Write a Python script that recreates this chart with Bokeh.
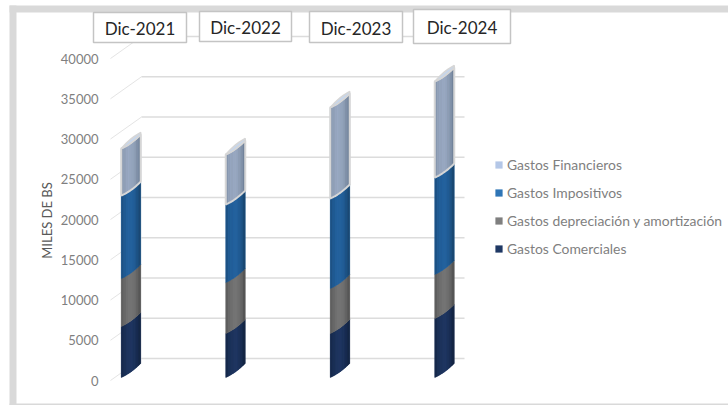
from bokeh.plotting import figure
from bokeh.models import (FixedTicker, Label, BoxAnnotation, Legend, LegendItem, Range1d)
from bokeh.embed import file_html
from bokeh.resources import INLINE
import math

# ---- chart values -------------------------------------------------------
categories = ["Dic-2021", "Dic-2022", "Dic-2023", "Dic-2024"]
gastos_comerciales = [6335, 5465, 5465, 7330]
gastos_depreciacion = [5960, 6335, 5590, 5470]
gastos_impositivos = [10300, 9690, 11185, 12040]
gastos_financieros = [5850, 6210, 11300, 11930]
series_names = ["Gastos Comerciales", "Gastos depreciación y amortización",
                "Gastos Impositivos", "Gastos Financieros"]
y_ticks = [0, 5000, 10000, 15000, 20000, 25000, 30000, 35000, 40000]

# ---- styling ------------------------------------------------------------
legend_colors = ["#1f3864", "#7f7f7f", "#2e75b6", "#b4c7e7"]
# horizontal shading of each cylinder, left edge to right edge
shades = [
    ["#16294c", "#1a2f55", "#1d335c", "#1e355f", "#1e3560", "#1c325a", "#182c50", "#142644"],
    ["#5f5f5f", "#686868", "#6f6f6f", "#737373", "#737373", "#6e6e6e", "#646464", "#565656"],
    ["#1d5184", "#205a92", "#225f9a", "#23619c", "#23619c", "#215c94", "#1e5386", "#1a4873"],
    ["#8797ae", "#909fb7", "#95a5bd", "#97a7bf", "#95a5bd", "#8e9eb5", "#8292a9", "#72839a"],
]
X_PER_PX = 1 / 104.5
Y_PER_PX = 1 / 0.00805
BAR_W = 19.5 * X_PER_PX
RISE = 14 * Y_PER_PX        # oblique rise of the cylinder ellipse
CAP_RISE = 16 * Y_PER_PX    # the lit top of the cylinder stands a little higher
DEPTH_DY = 22 * Y_PER_PX    # floor depth of the walls
BASE = 3 * Y_PER_PX         # cylinder front sits a little above the zero front line
FONT = "Lato"

p = figure(width=728, height=405, output_backend="svg", toolbar_location=None,
           x_axis_location=None, y_axis_location="left",
           x_range=Range1d((0 - 130.5) * X_PER_PX, (728 - 130.5) * X_PER_PX),
           y_range=Range1d((380 - 405) * Y_PER_PX, (380 - 0) * Y_PER_PX),
           min_border_left=0, min_border_top=0, min_border_right=0, min_border_bottom=0)
p.outline_line_color = None
p.xgrid.visible = False
p.ygrid.visible = False
p.background_fill_color = "white"
p.border_fill_color = "white"

x_front, x_back, x_end = (110 - 130.5) * X_PER_PX, (141 - 130.5) * X_PER_PX, (464 - 130.5) * X_PER_PX

ax = p.yaxis[0]
ax.fixed_location = x_front
ax.ticker = FixedTicker(ticks=y_ticks)
ax.axis_line_color = None
ax.major_tick_line_color = None
ax.minor_tick_line_color = None
ax.major_tick_out = 0
ax.major_tick_in = 0
ax.major_label_standoff = 12
ax.major_label_text_font = FONT
ax.major_label_text_font_size = "13px"
ax.major_label_text_color = "#7f7f7f"

# wall grid and the oblique floor ticks
p.multi_line([[x_back, x_end] for _ in y_ticks], [[t + DEPTH_DY] * 2 for t in y_ticks],
             line_color="#dcdcdc", line_width=1.5)
p.multi_line([[x_front, x_back] for _ in y_ticks], [[t, t + DEPTH_DY] for t in y_ticks],
             line_color="#e4e4e4", line_width=1)


def curve(t):
    return 0.6 * t + 0.4 * t * t


def band(cx, lo, hi, t0, t1, n=6):
    ts = [t0 + (t1 - t0) * i / n for i in range(n + 1)]
    xs = [cx - BAR_W / 2 + BAR_W * t for t in ts]
    lower = [lo + RISE * curve(t) for t in ts]
    upper = [hi + RISE * curve(t) for t in ts]
    return xs + xs[::-1], lower + upper[::-1]


stacks = [gastos_comerciales, gastos_depreciacion, gastos_impositivos, gastos_financieros]
bottoms = [BASE] * len(categories)
base_renderers = []
for s, vals in enumerate(stacks):
    xs, ys = [], []
    sx, sy, sc = [], [], []
    for i, v in enumerate(vals):
        lo, hi = bottoms[i], bottoms[i] + v
        a, b = band(i, lo, hi, 0, 1, 16)
        xs.append(a); ys.append(b)
        for k, c in enumerate(shades[s]):
            a, b = band(i, lo, hi, k / 8, (k + 1) / 8, 3)
            sx.append(a); sy.append(b); sc.append(c)
        bottoms[i] = hi
    base_renderers.append(p.patches(xs, ys, fill_color=legend_colors[s], line_color=None))
    p.patches(sx, sy, fill_color=sc, line_color=sc, line_width=0.4)
    if s == 3:
        p.patches(xs, ys, fill_color=None, line_color="#d6d6d6", line_width=2)

# top caps of the cylinders
cx, cy = [], []
for i, top in enumerate(bottoms):
    ts = [k / 12 for k in range(13)]
    xx = [i - BAR_W / 2 + BAR_W * t for t in ts]
    low = [top + RISE * curve(t) for t in ts]
    up = [top + CAP_RISE * (1 - curve(1 - t)) for t in ts]
    cx.append(xx + xx[::-1]); cy.append(low + up[::-1])
p.patches(cx, cy, fill_color="#c6d6ec", line_color="#d6d6d6", line_width=1.5)

legend = Legend(items=[LegendItem(label=series_names[s], renderers=[base_renderers[s]])
                       for s in [3, 2, 1, 0]],
                location=(494, 148), orientation="vertical", padding=0, margin=0,
                spacing=11, glyph_width=9, glyph_height=9, label_standoff=4, label_height=16,
                label_text_font=FONT, label_text_font_size="13.9px", label_text_color="#7f7f7f",
                border_line_color=None, background_fill_color=None)
p.add_layout(legend, "center")

# chart frame, partly cut by the window
for l, r, t, b in [(9, 16, 5, 405), (9, 728, 5, 12), (9, 728, 403, 405)]:
    p.add_layout(BoxAnnotation(left=l, right=r, top=t, bottom=b,
                               left_units="canvas", right_units="canvas",
                               top_units="canvas", bottom_units="canvas",
                               fill_color="#d9d9d9", fill_alpha=1, line_color=None))

p.add_layout(Label(x=46, y=220, x_units="canvas", y_units="canvas", text="MILES DE BS",
                   angle=math.pi / 2, text_font=FONT, text_font_size="13px",
                   text_color="#595959", text_align="center", text_baseline="middle"))

# category label boxes above the columns
boxes = [(93, 186, 12, 42), (199, 291, 11, 41), (309, 402, 11, 42), (413, 510, 9, 43)]
for name, (l, r, t, b) in zip(categories, boxes):
    p.add_layout(BoxAnnotation(left=l, right=r, top=t, bottom=b,
                               left_units="canvas", right_units="canvas",
                               top_units="canvas", bottom_units="canvas",
                               fill_color="white", fill_alpha=1,
                               line_color="#c4c4c4", line_alpha=1, line_width=1.5))
    p.add_layout(Label(x=(l + r) / 2, y=(t + b) / 2 + 1, x_units="canvas", y_units="canvas", text=name,
                       text_font=FONT, text_font_size="17px", text_color="#262626",
                       text_align="center", text_baseline="middle"))

open("out.html", "w").write(file_html(p, INLINE))
